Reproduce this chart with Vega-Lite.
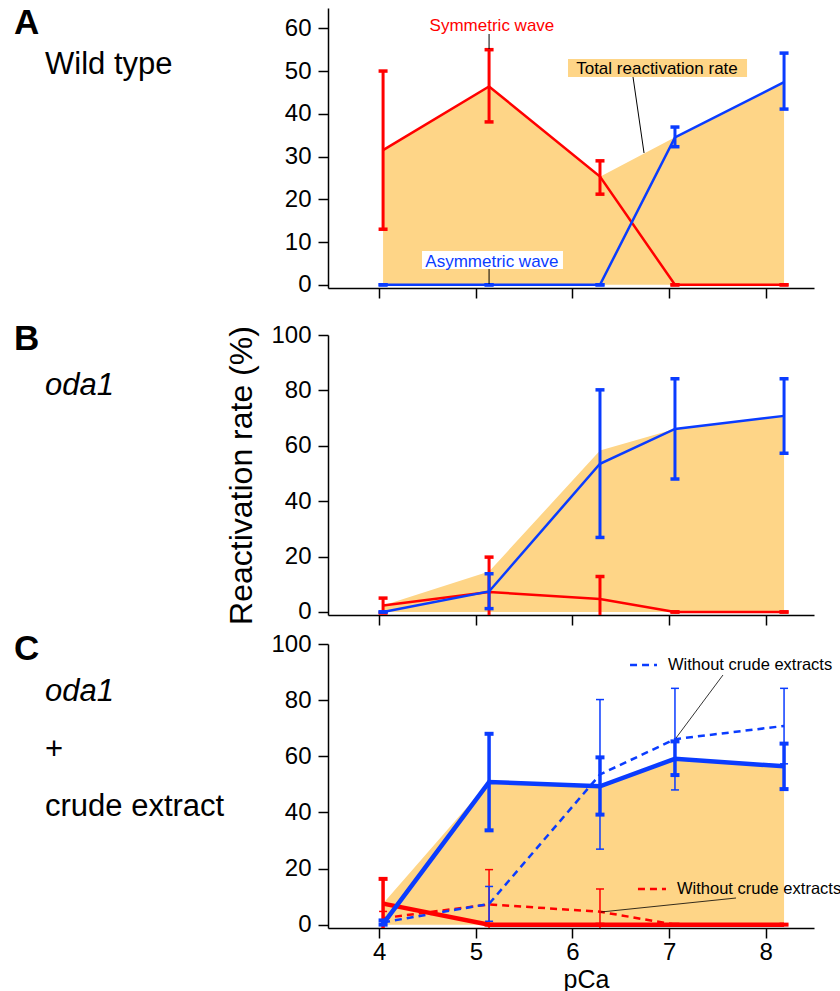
{
"$schema": "https://vega.github.io/schema/vega-lite/v6.json",
"background": "white",
"padding": {"left": 13, "top": 5, "right": 5, "bottom": 5},
"config": {
 "view": {"stroke": null},
 "font": "Liberation Sans",
 "axis": {"grid": false, "domainColor": "black", "domainWidth": 1.5, "tickColor": "black", "tickWidth": 1.5, "tickSize": 10, "labelColor": "black", "labelFontSize": 24, "labelFont": "Liberation Sans", "titleColor": "black", "titleFont": "Liberation Sans", "titleFontWeight": "normal", "labelOverlap": false},
 "axisY": {"labelPadding": 7},
 "axisX": {"labelPadding": 2}
},
"data": {"values": [
 {"panel":"A","series":"sym","pCa":4.04,"rate":31.5,"lo":13.0,"hi":50.0},
 {"panel":"A","series":"sym","pCa":5.137,"rate":46.4,"lo":38.1,"hi":55.0},
 {"panel":"A","series":"sym","pCa":6.285,"rate":25.3,"lo":21.2,"hi":29.0},
 {"panel":"A","series":"sym","pCa":7.061,"rate":0,"lo":0,"hi":0},
 {"panel":"A","series":"sym","pCa":8.19,"rate":0,"lo":0,"hi":0},
 {"panel":"A","series":"asym","pCa":4.04,"rate":0,"lo":0,"hi":0},
 {"panel":"A","series":"asym","pCa":5.137,"rate":0,"lo":0,"hi":0},
 {"panel":"A","series":"asym","pCa":6.285,"rate":0,"lo":0,"hi":0},
 {"panel":"A","series":"asym","pCa":7.061,"rate":34.5,"lo":32.3,"hi":36.9},
 {"panel":"A","series":"asym","pCa":8.19,"rate":47.4,"lo":41.1,"hi":54.2},
 {"panel":"A","series":"total","pCa":4.04,"rate":31.5},
 {"panel":"A","series":"total","pCa":5.137,"rate":46.4},
 {"panel":"A","series":"total","pCa":6.285,"rate":25.3},
 {"panel":"A","series":"total","pCa":7.061,"rate":34.5},
 {"panel":"A","series":"total","pCa":8.19,"rate":47.4},
 {"panel":"B","series":"sym","pCa":4.04,"rate":2.3,"lo":-0.4,"hi":5.0},
 {"panel":"B","series":"sym","pCa":5.137,"rate":7.2,"lo":-5.4,"hi":19.8},
 {"panel":"B","series":"sym","pCa":6.285,"rate":4.7,"lo":-3.4,"hi":12.8},
 {"panel":"B","series":"sym","pCa":7.061,"rate":0,"lo":0,"hi":0},
 {"panel":"B","series":"sym","pCa":8.19,"rate":0,"lo":0,"hi":0},
 {"panel":"B","series":"asym","pCa":4.04,"rate":0,"lo":0,"hi":0},
 {"panel":"B","series":"asym","pCa":5.137,"rate":7.4,"lo":1.2,"hi":13.8},
 {"panel":"B","series":"asym","pCa":6.285,"rate":53.5,"lo":26.9,"hi":80.2},
 {"panel":"B","series":"asym","pCa":7.061,"rate":66.1,"lo":48.0,"hi":84.2},
 {"panel":"B","series":"asym","pCa":8.19,"rate":70.8,"lo":57.3,"hi":84.2},
 {"panel":"B","series":"total","pCa":4.04,"rate":2.3},
 {"panel":"B","series":"total","pCa":5.137,"rate":14.6},
 {"panel":"B","series":"total","pCa":6.285,"rate":58.3},
 {"panel":"B","series":"total","pCa":7.061,"rate":66.1},
 {"panel":"B","series":"total","pCa":8.19,"rate":70.8},
 {"panel":"C","series":"sym","pCa":4.04,"rate":7.5,"lo":-1.3,"hi":16.3},
 {"panel":"C","series":"sym","pCa":5.137,"rate":0,"lo":0,"hi":0},
 {"panel":"C","series":"sym","pCa":6.285,"rate":0,"lo":0,"hi":0},
 {"panel":"C","series":"sym","pCa":7.061,"rate":0,"lo":0,"hi":0},
 {"panel":"C","series":"sym","pCa":8.19,"rate":0,"lo":0,"hi":0},
 {"panel":"C","series":"asym","pCa":4.04,"rate":0.3,"lo":0,"hi":1.5},
 {"panel":"C","series":"asym","pCa":5.137,"rate":50.8,"lo":33.6,"hi":68.0},
 {"panel":"C","series":"asym","pCa":6.285,"rate":49.3,"lo":39.2,"hi":59.6},
 {"panel":"C","series":"asym","pCa":7.061,"rate":59.1,"lo":53.3,"hi":65.3},
 {"panel":"C","series":"asym","pCa":8.19,"rate":56.4,"lo":48.3,"hi":64.5},
 {"panel":"C","series":"total","pCa":4.04,"rate":7.5},
 {"panel":"C","series":"total","pCa":5.137,"rate":50.8},
 {"panel":"C","series":"total","pCa":6.285,"rate":49.3},
 {"panel":"C","series":"total","pCa":7.061,"rate":59.1},
 {"panel":"C","series":"total","pCa":8.19,"rate":56.4},
 {"panel":"C","series":"sym0","pCa":4.04,"rate":2.3,"lo":-0.1,"hi":4.7},
 {"panel":"C","series":"sym0","pCa":5.137,"rate":7.2,"lo":-5.4,"hi":19.6},
 {"panel":"C","series":"sym0","pCa":6.285,"rate":4.6,"lo":-3.5,"hi":12.7},
 {"panel":"C","series":"sym0","pCa":7.061,"rate":0,"lo":0,"hi":0},
 {"panel":"C","series":"sym0","pCa":8.19,"rate":0,"lo":0,"hi":0},
 {"panel":"C","series":"asym0","pCa":4.04,"rate":0.8,"lo":0,"hi":1.6},
 {"panel":"C","series":"asym0","pCa":5.137,"rate":7.4,"lo":1.2,"hi":13.6},
 {"panel":"C","series":"asym0","pCa":6.285,"rate":53.5,"lo":26.9,"hi":80.2},
 {"panel":"C","series":"asym0","pCa":7.061,"rate":66.1,"lo":48.0,"hi":84.2},
 {"panel":"C","series":"asym0","pCa":8.19,"rate":70.8,"lo":57.3,"hi":84.2}
]},
"spacing": 23,
"vconcat": [
 {
  "width": 486, "height": 280,
  "layer": [
   {"transform":[{"filter":"datum.panel==='A' && datum.series==='total'"}],
    "mark":{"type":"area","color":"#FED587"},
    "encoding":{
     "x":{"field":"pCa","type":"quantitative","scale":{"domain":[3.47,8.5],"nice":false,"zero":false},"axis":{"values":[4,5,6,7,8],"labels":false,"title":null}},
     "y":{"field":"rate","type":"quantitative","scale":{"domain":[-0.75,64.75],"nice":false,"zero":false},"axis":{"values":[0,10,20,30,40,50,60],"title":null}},
     "y2":{"datum":0}}},
   {"transform":[{"filter":"datum.panel==='A' && datum.series==='sym'"}],
    "mark":{"type":"line","color":"#FF0000","strokeWidth":2.5,"clip":true},
    "encoding":{"x":{"field":"pCa","type":"quantitative"},"y":{"field":"rate","type":"quantitative"}}},
   {"transform":[{"filter":"datum.panel==='A' && datum.series==='sym'"}],
    "mark":{"type":"rule","color":"#FF0000","strokeWidth":3,"clip":true},
    "encoding":{"x":{"field":"pCa","type":"quantitative"},"y":{"field":"lo","type":"quantitative"},"y2":{"field":"hi"}}},
   {"transform":[{"filter":"datum.panel==='A' && datum.series==='sym'"}],
    "mark":{"type":"tick","orient":"horizontal","color":"#FF0000","size":9,"thickness":3.5,"opacity":1,"clip":true},
    "encoding":{"x":{"field":"pCa","type":"quantitative"},"y":{"field":"hi","type":"quantitative"}}},
   {"transform":[{"filter":"datum.panel==='A' && datum.series==='sym'"}],
    "mark":{"type":"tick","orient":"horizontal","color":"#FF0000","size":9,"thickness":3.5,"opacity":1,"clip":true},
    "encoding":{"x":{"field":"pCa","type":"quantitative"},"y":{"field":"lo","type":"quantitative"}}},
   {"transform":[{"filter":"datum.panel==='A' && datum.series==='asym'"}],
    "mark":{"type":"line","color":"#0A3CFF","strokeWidth":2.5,"clip":true},
    "encoding":{"x":{"field":"pCa","type":"quantitative"},"y":{"field":"rate","type":"quantitative"}}},
   {"transform":[{"filter":"datum.panel==='A' && datum.series==='asym'"}],
    "mark":{"type":"rule","color":"#0A3CFF","strokeWidth":3,"clip":true},
    "encoding":{"x":{"field":"pCa","type":"quantitative"},"y":{"field":"lo","type":"quantitative"},"y2":{"field":"hi"}}},
   {"transform":[{"filter":"datum.panel==='A' && datum.series==='asym'"}],
    "mark":{"type":"tick","orient":"horizontal","color":"#0A3CFF","size":9,"thickness":3.5,"opacity":1,"clip":true},
    "encoding":{"x":{"field":"pCa","type":"quantitative"},"y":{"field":"hi","type":"quantitative"}}},
   {"transform":[{"filter":"datum.panel==='A' && datum.series==='asym'"}],
    "mark":{"type":"tick","orient":"horizontal","color":"#0A3CFF","size":9,"thickness":3.5,"opacity":1,"clip":true},
    "encoding":{"x":{"field":"pCa","type":"quantitative"},"y":{"field":"lo","type":"quantitative"}}},
   {"data":{"values":[{}]},"mark":{"type":"rect","color":"#FED587"},
    "encoding":{"x":{"datum":5.954},"x2":{"datum":7.807},"y":{"datum":52.82},"y2":{"datum":48.61}}},
   {"data":{"values":[{}]},"mark":{"type":"rect","color":"white"},
    "encoding":{"x":{"datum":4.443},"x2":{"datum":5.902},"y":{"datum":7.91},"y2":{"datum":3.7}}},
   {"data":{"values":[{}]},"mark":{"type":"rule","color":"black","strokeWidth":1},
    "encoding":{"x":{"datum":5.137},"y":{"datum":58.67},"y2":{"datum":55.16}}},
   {"data":{"values":[{}]},"mark":{"type":"rule","color":"black","strokeWidth":1},
    "encoding":{"x":{"datum":6.627},"x2":{"datum":6.741},"y":{"datum":48.61},"y2":{"datum":30.83}}},
   {"data":{"values":[{}]},"mark":{"type":"rule","color":"black","strokeWidth":1},
    "encoding":{"x":{"datum":5.137},"y":{"datum":3.7},"y2":{"datum":0.2}}},
   {"data":{"values":[{}]},"mark":{"type":"text","text":"Symmetric wave","color":"#FF0000","fontSize":17,"align":"center","baseline":"alphabetic"},
    "encoding":{"x":{"datum":5.167},"y":{"datum":59.37}}},
   {"data":{"values":[{}]},"mark":{"type":"text","text":"Total reactivation rate","color":"black","fontSize":17,"align":"center","baseline":"alphabetic"},
    "encoding":{"x":{"datum":6.875},"y":{"datum":49.31}}},
   {"data":{"values":[{}]},"mark":{"type":"text","text":"Asymmetric wave","color":"#0A3CFF","fontSize":17,"align":"center","baseline":"alphabetic"},
    "encoding":{"x":{"datum":5.167},"y":{"datum":4.17}}},
   {"data":{"values":[{}]},"mark":{"type":"text","text":"A","color":"black","fontSize":35,"fontWeight":"bold","align":"left","baseline":"alphabetic"},
    "encoding":{"x":{"datum":0.22},"y":{"datum":58.67}}},
   {"data":{"values":[{}]},"mark":{"type":"text","text":"Wild type","color":"black","fontSize":31,"align":"left","baseline":"alphabetic"},
    "encoding":{"x":{"datum":0.541},"y":{"datum":49.31}}}
  ]
 },
 {
  "spacing": 29,
  "bounds": "flush",
  "vconcat": [
   {
    "width": 486, "height": 280,
    "layer": [
     {"transform":[{"filter":"datum.panel==='B' && datum.series==='total'"}],
      "mark":{"type":"area","color":"#FED587"},
      "encoding":{
       "x":{"field":"pCa","type":"quantitative","scale":{"domain":[3.47,8.5],"nice":false,"zero":false},"axis":{"values":[4,5,6,7,8],"labels":false,"title":null}},
       "y":{"field":"rate","type":"quantitative","scale":{"domain":[-1.1,100],"nice":false,"zero":false},"axis":{"values":[0,20,40,60,80,100],"title":"Reactivation rate (%)","titleFontSize":32,"titlePadding":12}},
       "y2":{"datum":0}}},
     {"transform":[{"filter":"datum.panel==='B' && datum.series==='sym'"}],
      "mark":{"type":"line","color":"#FF0000","strokeWidth":2.5,"clip":true},
      "encoding":{"x":{"field":"pCa","type":"quantitative"},"y":{"field":"rate","type":"quantitative"}}},
     {"transform":[{"filter":"datum.panel==='B' && datum.series==='sym'"}],
      "mark":{"type":"rule","color":"#FF0000","strokeWidth":3,"clip":true},
      "encoding":{"x":{"field":"pCa","type":"quantitative"},"y":{"field":"lo","type":"quantitative"},"y2":{"field":"hi"}}},
     {"transform":[{"filter":"datum.panel==='B' && datum.series==='sym'"}],
      "mark":{"type":"tick","orient":"horizontal","color":"#FF0000","size":9,"thickness":3.5,"opacity":1,"clip":true},
      "encoding":{"x":{"field":"pCa","type":"quantitative"},"y":{"field":"hi","type":"quantitative"}}},
     {"transform":[{"filter":"datum.panel==='B' && datum.series==='sym'"}],
      "mark":{"type":"tick","orient":"horizontal","color":"#FF0000","size":9,"thickness":3.5,"opacity":1,"clip":true},
      "encoding":{"x":{"field":"pCa","type":"quantitative"},"y":{"field":"lo","type":"quantitative"}}},
     {"transform":[{"filter":"datum.panel==='B' && datum.series==='asym'"}],
      "mark":{"type":"line","color":"#0A3CFF","strokeWidth":2.5,"clip":true},
      "encoding":{"x":{"field":"pCa","type":"quantitative"},"y":{"field":"rate","type":"quantitative"}}},
     {"transform":[{"filter":"datum.panel==='B' && datum.series==='asym'"}],
      "mark":{"type":"rule","color":"#0A3CFF","strokeWidth":3,"clip":true},
      "encoding":{"x":{"field":"pCa","type":"quantitative"},"y":{"field":"lo","type":"quantitative"},"y2":{"field":"hi"}}},
     {"transform":[{"filter":"datum.panel==='B' && datum.series==='asym'"}],
      "mark":{"type":"tick","orient":"horizontal","color":"#0A3CFF","size":9,"thickness":3.5,"opacity":1,"clip":true},
      "encoding":{"x":{"field":"pCa","type":"quantitative"},"y":{"field":"hi","type":"quantitative"}}},
     {"transform":[{"filter":"datum.panel==='B' && datum.series==='asym'"}],
      "mark":{"type":"tick","orient":"horizontal","color":"#0A3CFF","size":9,"thickness":3.5,"opacity":1,"clip":true},
      "encoding":{"x":{"field":"pCa","type":"quantitative"},"y":{"field":"lo","type":"quantitative"}}},
     {"data":{"values":[{}]},"mark":{"type":"text","text":"B","color":"black","fontSize":35,"fontWeight":"bold","align":"left","baseline":"alphabetic"},
      "encoding":{"x":{"datum":0.22},"y":{"datum":94.58}}},
     {"data":{"values":[{}]},"mark":{"type":"text","text":"oda1","color":"black","fontSize":31,"fontStyle":"italic","align":"left","baseline":"alphabetic"},
      "encoding":{"x":{"datum":0.541},"y":{"datum":78.34}}}
    ]
   },
   {
    "width": 486, "height": 284,
    "layer": [
     {"transform":[{"filter":"datum.panel==='C' && datum.series==='total'"}],
      "mark":{"type":"area","color":"#FED587"},
      "encoding":{
       "x":{"field":"pCa","type":"quantitative","scale":{"domain":[3.47,8.5],"nice":false,"zero":false},"axis":{"values":[4,5,6,7,8],"format":"d","title":"pCa","titleFontSize":25,"titlePadding":3,"titleX":258}},
       "y":{"field":"rate","type":"quantitative","scale":{"domain":[-1.2,100],"nice":false,"zero":false},"axis":{"values":[0,20,40,60,80,100],"title":null}},
       "y2":{"datum":0}}},
     {"transform":[{"filter":"datum.panel==='C' && datum.series==='sym0'"}],
      "mark":{"type":"rule","color":"#FF0000","strokeWidth":1.5,"clip":true},
      "encoding":{"x":{"field":"pCa","type":"quantitative"},"y":{"field":"lo","type":"quantitative"},"y2":{"field":"hi"}}},
     {"transform":[{"filter":"datum.panel==='C' && datum.series==='sym0'"}],
      "mark":{"type":"tick","orient":"horizontal","color":"#FF0000","size":8,"thickness":1.5,"opacity":1,"clip":true},
      "encoding":{"x":{"field":"pCa","type":"quantitative"},"y":{"field":"hi","type":"quantitative"}}},
     {"transform":[{"filter":"datum.panel==='C' && datum.series==='sym0'"}],
      "mark":{"type":"tick","orient":"horizontal","color":"#FF0000","size":8,"thickness":1.5,"opacity":1,"clip":true},
      "encoding":{"x":{"field":"pCa","type":"quantitative"},"y":{"field":"lo","type":"quantitative"}}},
     {"transform":[{"filter":"datum.panel==='C' && datum.series==='asym0'"}],
      "mark":{"type":"rule","color":"#0A3CFF","strokeWidth":1.5,"clip":true},
      "encoding":{"x":{"field":"pCa","type":"quantitative"},"y":{"field":"lo","type":"quantitative"},"y2":{"field":"hi"}}},
     {"transform":[{"filter":"datum.panel==='C' && datum.series==='asym0'"}],
      "mark":{"type":"tick","orient":"horizontal","color":"#0A3CFF","size":8,"thickness":1.5,"opacity":1,"clip":true},
      "encoding":{"x":{"field":"pCa","type":"quantitative"},"y":{"field":"hi","type":"quantitative"}}},
     {"transform":[{"filter":"datum.panel==='C' && datum.series==='asym0'"}],
      "mark":{"type":"tick","orient":"horizontal","color":"#0A3CFF","size":8,"thickness":1.5,"opacity":1,"clip":true},
      "encoding":{"x":{"field":"pCa","type":"quantitative"},"y":{"field":"lo","type":"quantitative"}}},
     {"transform":[{"filter":"datum.panel==='C' && datum.series==='sym0'"}],
      "mark":{"type":"line","color":"#FF0000","strokeWidth":2.5,"strokeDash":[7,5],"clip":true},
      "encoding":{"x":{"field":"pCa","type":"quantitative"},"y":{"field":"rate","type":"quantitative"}}},
     {"transform":[{"filter":"datum.panel==='C' && datum.series==='asym0'"}],
      "mark":{"type":"line","color":"#0A3CFF","strokeWidth":2.5,"strokeDash":[7,5],"clip":true},
      "encoding":{"x":{"field":"pCa","type":"quantitative"},"y":{"field":"rate","type":"quantitative"}}},
     {"transform":[{"filter":"datum.panel==='C' && datum.series==='sym'"}],
      "mark":{"type":"line","color":"#FF0000","strokeWidth":4.5,"clip":true},
      "encoding":{"x":{"field":"pCa","type":"quantitative"},"y":{"field":"rate","type":"quantitative"}}},
     {"transform":[{"filter":"datum.panel==='C' && datum.series==='sym'"}],
      "mark":{"type":"rule","color":"#FF0000","strokeWidth":3.5,"clip":true},
      "encoding":{"x":{"field":"pCa","type":"quantitative"},"y":{"field":"lo","type":"quantitative"},"y2":{"field":"hi"}}},
     {"transform":[{"filter":"datum.panel==='C' && datum.series==='sym'"}],
      "mark":{"type":"tick","orient":"horizontal","color":"#FF0000","size":9,"thickness":4,"opacity":1,"clip":true},
      "encoding":{"x":{"field":"pCa","type":"quantitative"},"y":{"field":"hi","type":"quantitative"}}},
     {"transform":[{"filter":"datum.panel==='C' && datum.series==='asym'"}],
      "mark":{"type":"line","color":"#0A3CFF","strokeWidth":4.5,"clip":true},
      "encoding":{"x":{"field":"pCa","type":"quantitative"},"y":{"field":"rate","type":"quantitative"}}},
     {"transform":[{"filter":"datum.panel==='C' && datum.series==='asym'"}],
      "mark":{"type":"rule","color":"#0A3CFF","strokeWidth":3.5,"clip":true},
      "encoding":{"x":{"field":"pCa","type":"quantitative"},"y":{"field":"lo","type":"quantitative"},"y2":{"field":"hi"}}},
     {"transform":[{"filter":"datum.panel==='C' && datum.series==='asym'"}],
      "mark":{"type":"tick","orient":"horizontal","color":"#0A3CFF","size":9,"thickness":4,"opacity":1,"clip":true},
      "encoding":{"x":{"field":"pCa","type":"quantitative"},"y":{"field":"hi","type":"quantitative"}}},
     {"transform":[{"filter":"datum.panel==='C' && datum.series==='asym'"}],
      "mark":{"type":"tick","orient":"horizontal","color":"#0A3CFF","size":9,"thickness":4,"opacity":1,"clip":true},
      "encoding":{"x":{"field":"pCa","type":"quantitative"},"y":{"field":"lo","type":"quantitative"}}},
     {"data":{"values":[{}]},"mark":{"type":"rule","color":"#0A3CFF","strokeWidth":2.5,"strokeDash":[7,5]},
      "encoding":{"x":{"datum":6.596},"x2":{"datum":6.875},"y":{"datum":92.52}}},
     {"data":{"values":[{}]},"mark":{"type":"text","text":"Without crude extracts","color":"black","fontSize":16.5,"align":"left","baseline":"alphabetic"},
      "encoding":{"x":{"datum":6.989},"y":{"datum":90.74}}},
     {"data":{"values":[{}]},"mark":{"type":"rule","color":"black","strokeWidth":0.8},
      "encoding":{"x":{"datum":7.558},"x2":{"datum":7.072},"y":{"datum":88.95},"y2":{"datum":66.5}}},
     {"data":{"values":[{}]},"mark":{"type":"rule","color":"#FF0000","strokeWidth":2.5,"strokeDash":[7,5]},
      "encoding":{"x":{"datum":6.678},"x2":{"datum":6.968},"y":{"datum":12.7}}},
     {"data":{"values":[{}]},"mark":{"type":"text","text":"Without crude extracts","color":"black","fontSize":16.5,"align":"left","baseline":"alphabetic"},
      "encoding":{"x":{"datum":7.082},"y":{"datum":10.92}}},
     {"data":{"values":[{}]},"mark":{"type":"rule","color":"black","strokeWidth":0.8},
      "encoding":{"x":{"datum":7.693},"x2":{"datum":6.296},"y":{"datum":9.49},"y2":{"datum":4.5}}},
     {"data":{"values":[{}]},"mark":{"type":"text","text":"C","color":"black","fontSize":35,"fontWeight":"bold","align":"left","baseline":"alphabetic"},
      "encoding":{"x":{"datum":0.22},"y":{"datum":94.3}}},
     {"data":{"values":[{}]},"mark":{"type":"text","text":"oda1","color":"black","fontSize":31,"fontStyle":"italic","align":"left","baseline":"alphabetic"},
      "encoding":{"x":{"datum":0.541},"y":{"datum":79.69}}},
     {"data":{"values":[{}]},"mark":{"type":"text","text":"+","color":"black","fontSize":31,"align":"left","baseline":"alphabetic"},
      "encoding":{"x":{"datum":0.541},"y":{"datum":59.02}}},
     {"data":{"values":[{}]},"mark":{"type":"text","text":"crude extract","color":"black","fontSize":31,"align":"left","baseline":"alphabetic"},
      "encoding":{"x":{"datum":0.541},"y":{"datum":38.71}}}
    ]
   }
  ]
 }
]
}
